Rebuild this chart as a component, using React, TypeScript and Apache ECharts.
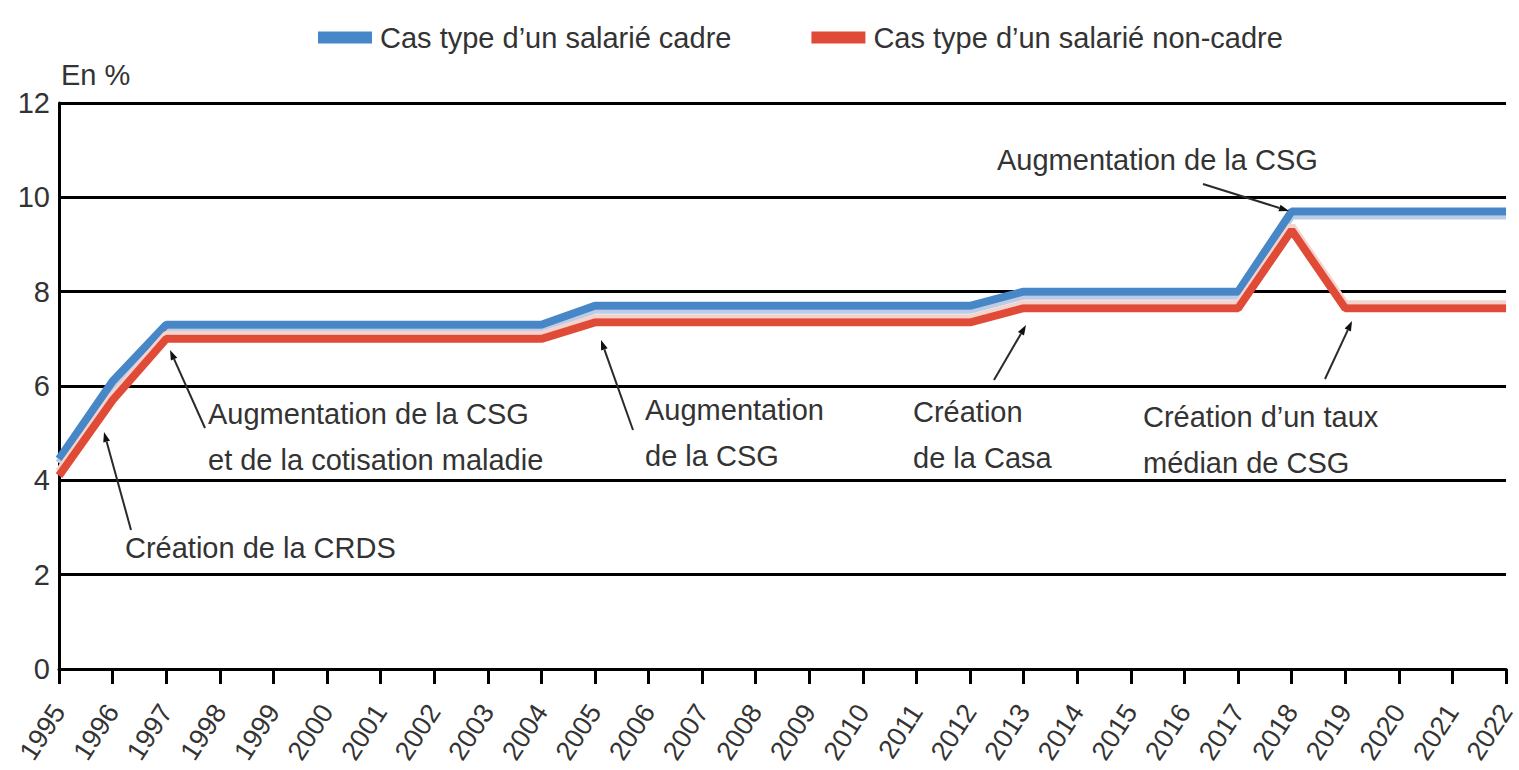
import React, { useEffect, useRef } from 'react';
import * as echarts from 'echarts';

const years = ['1995','1996','1997','1998','1999','2000','2001','2002','2003','2004','2005','2006','2007','2008','2009','2010','2011','2012','2013','2014','2015','2016','2017','2018','2019','2020','2021','2022'];
const cadre = [4.45, 6.1, 7.3, 7.3, 7.3, 7.3, 7.3, 7.3, 7.3, 7.3, 7.7, 7.7, 7.7, 7.7, 7.7, 7.7, 7.7, 7.7, 8.0, 8.0, 8.0, 8.0, 8.0, 9.7, 9.7, 9.7, 9.7, 9.7];
const nonCadre = [4.1, 5.7, 7.0, 7.0, 7.0, 7.0, 7.0, 7.0, 7.0, 7.0, 7.35, 7.35, 7.35, 7.35, 7.35, 7.35, 7.35, 7.35, 7.65, 7.65, 7.65, 7.65, 7.65, 9.3, 7.65, 7.65, 7.65, 7.65];
const seriesNames = ['Cas type d’un salarié cadre', 'Cas type d’un salarié non-cadre'];
const yAxisName = 'En %';
const annotationTexts = [
  'Création de la CRDS',
  'Augmentation de la CSG\net de la cotisation maladie',
  'Augmentation\nde la CSG',
  'Création\nde la Casa',
  'Augmentation de la CSG',
  'Création d’un taux\nmédian de CSG',
];

const FONT = '"Liberation Sans", Arial, sans-serif';
const TXT = '#333333';
const BLUE = '#4787c7';
const RED = '#e04b37';

// layout of annotation labels (pixel positions): [left, first line center y]
const textLayout: [number, number][] = [
  [125, 548],
  [208, 414],
  [645, 410],
  [913, 412],
  [997, 160],
  [1143, 417],
];
// arrows: [tailX, tailY, tipX, tipY]
const arrowLayout: [number, number, number, number][] = [
  [131, 530, 104, 432],
  [205, 428, 170, 350],
  [633, 430, 601, 340],
  [994, 380, 1026, 325],
  [1203, 184, 1289, 211],
  [1325, 379, 1352, 321],
];

function buildGraphic() {
  const els: any[] = [];
  const LH = 46;
  annotationTexts.forEach((t, i) => {
    const [x, cy] = textLayout[i];
    els.push({
      type: 'text',
      x,
      y: cy - LH / 2,
      style: {
        text: t,
        fill: TXT,
        fontFamily: FONT,
        fontSize: 29,
        lineHeight: LH,
        verticalAlign: 'top',
        align: 'left',
      },
      z: 100,
    });
  });
  arrowLayout.forEach(([x1, y1, x2, y2]) => {
    const dx = x2 - x1;
    const dy = y2 - y1;
    const len = Math.sqrt(dx * dx + dy * dy);
    const ux = dx / len;
    const uy = dy / len;
    const hl = 10;
    const hw = 3.5;
    const bx = x2 - ux * hl;
    const by = y2 - uy * hl;
    els.push({
      type: 'line',
      shape: { x1, y1, x2: bx, y2: by },
      style: { stroke: '#2a2a2a', lineWidth: 2 },
      z: 100,
    });
    els.push({
      type: 'polygon',
      shape: {
        points: [
          [x2, y2],
          [bx - uy * hw, by + ux * hw],
          [bx + uy * hw, by - ux * hw],
        ],
      },
      style: { fill: '#111111' },
      z: 100,
    });
  });
  return els;
}

export default function App() {
  const ref = useRef<HTMLDivElement>(null);
  useEffect(() => {
    document.body.style.margin = '0';
    if (!ref.current) return;
    const chart = echarts.init(ref.current, undefined, { renderer: 'svg' });
    chart.setOption({
      animation: false,
      backgroundColor: '#ffffff',
      legend: {
        top: 18,
        left: 313,
        icon: 'rect',
        itemWidth: 54,
        itemHeight: 12,
        itemGap: 80,
        textStyle: { fontFamily: FONT, fontSize: 29, color: TXT, padding: [0, 0, 0, 3] },
        data: seriesNames,
      },
      grid: { left: 59, right: 4, top: 103, bottom: 101, containLabel: false },
      xAxis: {
        type: 'category',
        data: years,
        boundaryGap: false,
        axisLine: { show: true, lineStyle: { color: '#000', width: 3 } },
        axisTick: { show: true, length: 15, lineStyle: { color: '#000', width: 3 } },
        axisLabel: {
          rotate: 57,
          interval: 0,
          margin: 38,
          fontFamily: FONT,
          fontSize: 27,
          color: TXT,
        },
        splitLine: { show: false },
      },
      yAxis: {
        type: 'value',
        min: 0,
        max: 12,
        interval: 2,
        name: yAxisName,
        nameLocation: 'end',
        nameGap: 14,
        nameTextStyle: {
          fontFamily: FONT,
          fontSize: 29,
          color: TXT,
          align: 'left',
          verticalAlign: 'bottom',
          padding: [0, 0, 0, 2],
        },
        axisLine: { show: true, lineStyle: { color: '#000', width: 3 } },
        axisTick: { show: false },
        axisLabel: { fontFamily: FONT, fontSize: 29, color: TXT, margin: 9 },
        splitLine: { show: true, lineStyle: { color: '#000', width: 3 } },
      },
      series: [
        {
          name: seriesNames[0],
          type: 'line',
          data: cadre,
          symbol: 'none',
          color: BLUE,
          lineStyle: {
            color: BLUE,
            width: 8,
            shadowColor: '#b9cde6',
            shadowOffsetY: 4,
            shadowBlur: 0,
          },
          z: 3,
        },
        {
          name: seriesNames[1],
          type: 'line',
          data: nonCadre,
          symbol: 'none',
          color: RED,
          lineStyle: {
            color: RED,
            width: 8,
            shadowColor: '#f6d2cd',
            shadowOffsetY: -4,
            shadowBlur: 0,
          },
          z: 4,
        },
      ],
      graphic: buildGraphic(),
    });
    return () => chart.dispose();
  }, []);
  return <div ref={ref} style={{ width: 1519, height: 770 }} />;
}
